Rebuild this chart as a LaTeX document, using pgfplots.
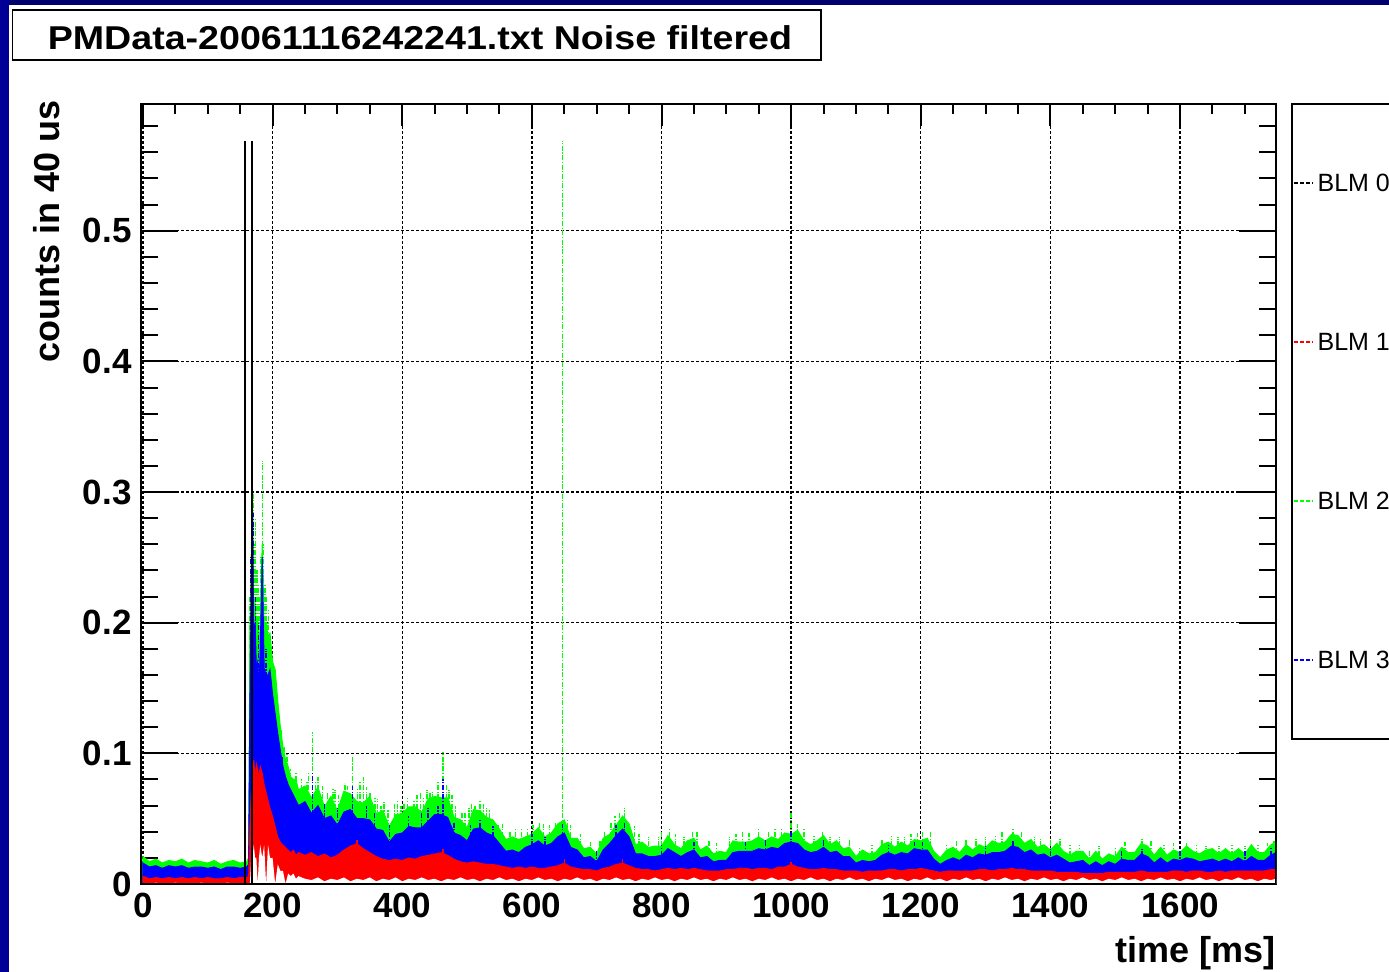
\documentclass[border=0pt]{standalone}
\usepackage{fontspec}
\setmainfont{Liberation Sans}
\usepackage{graphicx}
\usepackage{pgfplots}
\usepackage{pgfplotstable}
\pgfplotsset{compat=1.18}

\definecolor{blmgreen}{RGB}{0,255,0}
\definecolor{blmblue}{RGB}{0,0,255}
\definecolor{blmred}{RGB}{255,0,0}
\definecolor{frametop}{RGB}{0,0,110}
\definecolor{frameleft}{RGB}{0,0,150}

% Envelope of the four loss monitors (counts in 40 us):
% gt = BLM 2 upper edge, bt = BLM 3 upper edge, rt/rl = BLM 1 upper/lower edge
\pgfplotstableread{
t gt bt rt rl
0 0.021 0.016 0.006 0.000
10 0.017 0.013 0.004 0.000
20 0.019 0.014 0.005 0.001
30 0.016 0.012 0.004 0.000
40 0.018 0.014 0.005 0.000
50 0.017 0.013 0.004 0.001
60 0.019 0.014 0.005 0.000
70 0.016 0.012 0.004 0.000
80 0.018 0.013 0.005 0.000
90 0.017 0.013 0.004 0.001
100 0.016 0.012 0.005 0.000
110 0.018 0.013 0.004 0.000
120 0.015 0.011 0.004 0.000
130 0.017 0.013 0.005 0.001
140 0.018 0.013 0.004 0.000
150 0.016 0.012 0.005 0.000
160 0.017 0.013 0.005 0.000
163 0.020 0.015 0.006 0.000
165 0.190 0.140 0.045 0.000
167 0.250 0.220 0.070 0.020
169 0.300 0.284 0.085 0.020
171 0.210 0.180 0.095 0.030
173 0.215 0.200 0.082 0.020
175 0.195 0.165 0.092 0.020
177 0.205 0.170 0.088 0.000
179 0.180 0.150 0.082 0.020
181 0.200 0.180 0.090 0.030
184 0.260 0.250 0.085 0.020
187 0.200 0.165 0.076 0.030
190 0.200 0.160 0.070 0.000
193 0.190 0.160 0.064 0.030
196 0.192 0.164 0.058 0.020
200 0.170 0.145 0.052 0.020
204 0.164 0.130 0.044 0.000
208 0.140 0.115 0.036 0.015
212 0.120 0.102 0.032 0.010
216 0.105 0.090 0.030 0.010
220 0.095 0.082 0.028 0.000
224 0.090 0.076 0.026 0.008
228 0.082 0.072 0.024 0.006
232 0.080 0.068 0.026 0.008
236 0.080 0.064 0.022 0.004
240 0.072 0.060 0.024 0.006
250 0.075 0.063 0.022 0.004
260 0.066 0.054 0.024 0.003
270 0.074 0.060 0.021 0.005
280 0.059 0.050 0.023 0.002
290 0.067 0.052 0.020 0.004
300 0.056 0.045 0.022 0.003
310 0.071 0.055 0.026 0.005
320 0.069 0.057 0.029 0.002
330 0.063 0.050 0.031 0.004
340 0.062 0.050 0.027 0.003
350 0.067 0.049 0.024 0.005
360 0.054 0.042 0.021 0.002
370 0.056 0.041 0.019 0.004
380 0.044 0.032 0.018 0.003
390 0.053 0.038 0.019 0.005
400 0.054 0.039 0.018 0.002
410 0.059 0.044 0.020 0.004
420 0.059 0.043 0.019 0.003
430 0.055 0.043 0.021 0.005
440 0.065 0.048 0.022 0.003
450 0.067 0.053 0.023 0.004
460 0.066 0.053 0.024 0.002
470 0.066 0.051 0.022 0.004
480 0.051 0.039 0.019 0.003
490 0.049 0.037 0.017 0.005
500 0.043 0.033 0.016 0.003
510 0.057 0.042 0.017 0.004
520 0.056 0.043 0.016 0.002
530 0.051 0.039 0.015 0.004
540 0.049 0.037 0.015 0.003
550 0.042 0.031 0.014 0.005
560 0.034 0.025 0.013 0.003
570 0.036 0.026 0.012 0.004
580 0.034 0.024 0.013 0.002
590 0.036 0.028 0.012 0.004
600 0.038 0.030 0.013 0.003
610 0.043 0.033 0.012 0.005
620 0.036 0.029 0.012 0.003
630 0.039 0.031 0.013 0.004
640 0.046 0.036 0.014 0.002
650 0.049 0.039 0.016 0.004
660 0.035 0.028 0.013 0.003
670 0.035 0.026 0.012 0.005
680 0.027 0.020 0.011 0.003
690 0.028 0.021 0.011 0.004
700 0.023 0.017 0.010 0.002
710 0.035 0.026 0.012 0.004
720 0.038 0.031 0.013 0.003
730 0.045 0.037 0.015 0.005
740 0.052 0.042 0.016 0.003
750 0.046 0.036 0.014 0.004
760 0.030 0.023 0.012 0.002
770 0.032 0.023 0.011 0.004
780 0.028 0.021 0.011 0.003
790 0.029 0.021 0.010 0.005
800 0.029 0.022 0.011 0.003
810 0.037 0.027 0.012 0.004
820 0.030 0.024 0.011 0.002
830 0.027 0.021 0.012 0.004
840 0.033 0.024 0.011 0.003
850 0.035 0.026 0.012 0.005
860 0.026 0.020 0.011 0.003
870 0.029 0.021 0.010 0.004
880 0.023 0.017 0.010 0.002
890 0.025 0.018 0.010 0.004
900 0.024 0.018 0.011 0.003
910 0.033 0.024 0.011 0.005
920 0.032 0.025 0.012 0.003
930 0.032 0.025 0.012 0.004
940 0.033 0.025 0.011 0.002
950 0.036 0.027 0.012 0.004
960 0.033 0.026 0.012 0.003
970 0.036 0.028 0.011 0.005
980 0.034 0.027 0.013 0.003
990 0.039 0.031 0.013 0.004
1000 0.038 0.032 0.015 0.002
1010 0.041 0.031 0.013 0.004
1020 0.033 0.026 0.012 0.003
1030 0.030 0.024 0.011 0.005
1040 0.033 0.025 0.011 0.003
1050 0.037 0.028 0.012 0.004
1060 0.030 0.024 0.011 0.002
1070 0.033 0.025 0.011 0.004
1080 0.027 0.021 0.010 0.003
1090 0.028 0.021 0.010 0.005
1100 0.021 0.016 0.010 0.003
1110 0.026 0.018 0.009 0.004
1120 0.023 0.017 0.010 0.002
1130 0.024 0.018 0.010 0.004
1140 0.030 0.022 0.010 0.003
1150 0.032 0.024 0.011 0.005
1160 0.028 0.022 0.011 0.003
1170 0.032 0.024 0.010 0.004
1180 0.029 0.023 0.011 0.002
1190 0.034 0.027 0.011 0.004
1200 0.033 0.026 0.012 0.003
1210 0.035 0.026 0.011 0.005
1220 0.025 0.019 0.010 0.003
1230 0.020 0.015 0.009 0.004
1240 0.026 0.018 0.010 0.002
1250 0.028 0.020 0.010 0.004
1260 0.024 0.018 0.010 0.003
1270 0.030 0.022 0.010 0.005
1280 0.026 0.020 0.010 0.003
1290 0.030 0.023 0.011 0.004
1300 0.028 0.022 0.011 0.002
1310 0.033 0.024 0.010 0.004
1320 0.031 0.024 0.011 0.003
1330 0.032 0.025 0.011 0.005
1340 0.038 0.029 0.012 0.003
1350 0.037 0.028 0.011 0.004
1360 0.031 0.024 0.011 0.002
1370 0.034 0.026 0.010 0.004
1380 0.028 0.022 0.010 0.003
1390 0.030 0.023 0.010 0.005
1400 0.026 0.020 0.010 0.003
1410 0.031 0.022 0.009 0.004
1420 0.025 0.019 0.009 0.002
1430 0.022 0.016 0.009 0.004
1440 0.025 0.017 0.009 0.003
1450 0.025 0.018 0.008 0.005
1460 0.019 0.014 0.008 0.003
1470 0.025 0.017 0.008 0.004
1480 0.019 0.014 0.008 0.002
1490 0.023 0.017 0.009 0.004
1500 0.021 0.015 0.009 0.003
1510 0.028 0.019 0.009 0.005
1520 0.024 0.018 0.009 0.003
1530 0.024 0.018 0.009 0.004
1540 0.031 0.023 0.010 0.002
1550 0.029 0.021 0.009 0.004
1560 0.022 0.016 0.009 0.003
1570 0.028 0.020 0.009 0.005
1580 0.022 0.016 0.009 0.003
1590 0.026 0.019 0.010 0.004
1600 0.024 0.018 0.010 0.002
1610 0.029 0.020 0.009 0.004
1620 0.025 0.019 0.010 0.003
1630 0.023 0.017 0.010 0.005
1640 0.026 0.018 0.009 0.003
1650 0.027 0.019 0.009 0.004
1660 0.023 0.017 0.010 0.002
1670 0.027 0.019 0.009 0.004
1680 0.023 0.017 0.010 0.003
1690 0.027 0.020 0.010 0.005
1700 0.023 0.017 0.010 0.003
1710 0.030 0.021 0.010 0.004
1720 0.024 0.018 0.010 0.002
1730 0.024 0.018 0.010 0.004
1740 0.030 0.022 0.011 0.003
1748 0.032 0.024 0.011 0.004
}\bands

% Isolated BLM 2 spikes
\pgfplotstableread{
t y
165 0.220
166 0.250
169 0.371
170 0.300
172 0.260
174 0.280
176 0.240
178 0.230
179 0.220
182 0.250
184 0.324
186 0.260
188 0.230
190 0.220
192 0.200
194 0.210
196 0.190
200 0.170
204 0.164
208 0.140
213 0.118
218 0.105
222 0.100
228 0.088
236 0.085
245 0.080
253 0.078
255 0.085
262 0.116
266 0.078
270 0.082
277 0.075
285 0.070
293 0.073
296 0.072
302 0.068
312 0.077
316 0.075
323 0.097
331 0.073
335 0.078
340 0.082
345 0.074
350 0.070
358 0.066
362 0.065
367 0.060
372 0.063
378 0.057
388 0.062
393 0.064
398 0.060
403 0.062
408 0.066
418 0.064
423 0.068
428 0.070
433 0.066
438 0.072
443 0.070
447 0.071
455 0.078
463 0.101
468 0.076
472 0.072
477 0.068
482 0.060
492 0.054
497 0.055
503 0.058
507 0.062
512 0.060
520 0.064
525 0.062
530 0.058
535 0.057
548 0.045
555 0.046
566 0.040
575 0.042
584 0.042
593 0.043
602 0.045
612 0.048
618 0.046
627 0.045
636 0.048
647 0.569
655 0.050
660 0.045
675 0.038
690 0.032
705 0.033
712 0.040
722 0.048
728 0.052
735 0.055
743 0.058
758 0.044
765 0.038
780 0.036
795 0.036
800 0.040
812 0.042
822 0.038
835 0.036
848 0.040
855 0.040
873 0.033
885 0.031
905 0.036
915 0.038
925 0.040
935 0.039
950 0.042
965 0.040
975 0.043
985 0.042
1000 0.055
1010 0.046
1020 0.042
1035 0.037
1048 0.040
1060 0.036
1075 0.036
1090 0.034
1105 0.028
1125 0.030
1140 0.034
1155 0.037
1165 0.036
1175 0.036
1185 0.038
1195 0.039
1203 0.040
1215 0.040
1240 0.030
1255 0.033
1270 0.034
1285 0.035
1300 0.036
1315 0.037
1325 0.040
1342 0.042
1355 0.041
1375 0.036
1385 0.035
1400 0.034
1415 0.035
1430 0.030
1445 0.030
1460 0.026
1475 0.029
1500 0.028
1515 0.032
1541 0.035
1555 0.033
1575 0.030
1590 0.031
1610 0.031
1625 0.030
1640 0.029
1660 0.029
1680 0.030
1700 0.029
1720 0.030
1735 0.031
1745 0.033
}\greenspikes

% Isolated BLM 3 spikes
\pgfplotstableread{
t y
167 0.250
170 0.284
174 0.220
178 0.200
184 0.250
190 0.180
197 0.150
205 0.120
215 0.098
262 0.085
280 0.062
300 0.058
323 0.075
345 0.060
357 0.055
380 0.045
410 0.052
430 0.055
440 0.058
455 0.060
463 0.080
480 0.048
505 0.045
520 0.050
540 0.044
600 0.038
620 0.036
647 0.046
700 0.026
730 0.045
743 0.048
800 0.030
850 0.032
930 0.032
960 0.034
1000 0.041
1050 0.034
1150 0.030
1190 0.032
1203 0.032
1300 0.029
1342 0.033
1400 0.027
1510 0.025
1541 0.027
1600 0.025
1700 0.026
1740 0.028
}\bluespikes

% Isolated BLM 1 spikes
\pgfplotstableread{
t y
330 0.034
463 0.027
650 0.019
740 0.019
1000 0.017
}\redspikes

% BLM 0 saturated readings
\pgfplotstableread{
t y
157 0.569
168 0.569
}\blackspikes

\begin{document}
\begin{tikzpicture}
\begin{scope}
\clip (0,0) rectangle (694.5pt,486pt);
\fill[white] (0,0) rectangle (694.5pt,486pt);
\fill[frametop] (0,483.5pt) rectangle (694.5pt,486pt);
\fill[frameleft] (0,0) rectangle (4.5pt,486pt);

% title box
\draw[line width=0.8pt] (6.3pt,456pt) rectangle (410.5pt,481pt);
\node[anchor=base, inner sep=0pt, font=\fontsize{16.5}{19}\selectfont\bfseries]
  at (210pt,461pt) {\scalebox{1.14}[1]{PMData-20061116242241.txt Noise filtered}};

\begin{axis}[
  at={(70.5pt,44pt)}, anchor=south west,
  scale only axis, width=567.5pt, height=390pt,
  xmin=-3, xmax=1748, ymin=0, ymax=0.597,
  axis line style={line width=1pt},
  tick style={black, line width=1pt},
  tick align=inside, tick pos=both,
  xtick={0,200,...,1600},
  xticklabels={0,200,400,600,800,1000,1200,1400,1600},
  ytick={0,0.1,0.2,0.3,0.4,0.5},
  yticklabels={0,0.1,0.2,0.3,0.4,0.5},
  minor xtick={50,100,...,1700},
  minor ytick={0.02,0.04,...,0.59},
  major tick length=11pt, minor tick length=5pt,
  ytick style={/pgfplots/major tick length=18.5pt, /pgfplots/minor tick length=8.5pt},
  grid=major,
  major grid style={black, line width=0.65pt, dash pattern=on 1.5pt off 1pt},
  /pgf/number format/assume math mode=true,
  ticklabel style={font=\fontsize{17.5}{20}\selectfont\bfseries},
  xticklabel style={anchor=base, yshift=-17pt, inner sep=0pt},
  yticklabel style={anchor=east, xshift=-4.5pt, inner sep=0pt},
  legend image code/.code={\draw[#1, line width=0.6pt, dash pattern=on 2.2pt off 0.9pt] (0pt,0pt) -- (9.5pt,0pt);},
  legend cell align=left,
  legend style={
    at={(axis description cs:1.0132,1.0013)}, anchor=north west,
    draw=black, line width=1pt, fill=white,
    inner xsep=0.5pt, inner ysep=35pt,
    row sep=70.5pt,
    font=\fontsize{12.5}{14}\selectfont,
    nodes={inner sep=0pt, text height=9pt, text depth=0pt},
    /tikz/every odd column/.append style={column sep=2.2pt},
  },
]
% BLM 2
\addplot[ycomb, blmgreen, line width=0.7pt, dash pattern=on 2.5pt off 0.8pt on 0.6pt off 0.8pt, forget plot]
  table[x=t, y=y] {\greenspikes};
\addplot[fill=blmgreen, draw=blmgreen, line width=0.5pt, forget plot]
  table[x=t, y=gt] {\bands} \closedcycle;
% BLM 3
\addplot[ycomb, blmblue, line width=0.7pt, dash pattern=on 2.5pt off 0.8pt on 0.6pt off 0.8pt, forget plot]
  table[x=t, y=y] {\bluespikes};
\addplot[fill=blmblue, draw=blmblue, line width=0.5pt, forget plot]
  table[x=t, y=bt] {\bands} \closedcycle;
% BLM 1
\addplot[fill=blmred, draw=blmred, line width=0.4pt, forget plot]
  table[x=t, y=rt] {\bands} \closedcycle;
\addplot[ycomb, blmred, line width=0.7pt, forget plot]
  table[x=t, y=y] {\redspikes};
% quiet floor below BLM 1
\addplot[fill=white, draw=none, forget plot]
  table[x=t, y=rl] {\bands} \closedcycle;
% BLM 0
\addplot[ycomb, black, line width=0.8pt, forget plot]
  table[x=t, y=y] {\blackspikes};
% frame redrawn over the filled areas
\draw[line width=1pt] (rel axis cs:0,0) rectangle (rel axis cs:1,1);

\addlegendimage{black}
\addlegendimage{blmred}
\addlegendimage{blmgreen}
\addlegendimage{blmblue}
\legend{BLM 0, BLM 1, BLM 2, BLM 3}
\end{axis}

\node[anchor=base east, inner sep=0pt, font=\fontsize{18}{20}\selectfont\bfseries]
  at (638pt,4.5pt) {time [ms]};
\node[rotate=90, anchor=base east, inner sep=0pt, font=\fontsize{18}{20}\selectfont\bfseries]
  at (30pt,436pt) {counts in 40 us};
\end{scope}
\pgfresetboundingbox
\useasboundingbox (0,0) rectangle (694.5pt,486pt);
\end{tikzpicture}
\end{document}
